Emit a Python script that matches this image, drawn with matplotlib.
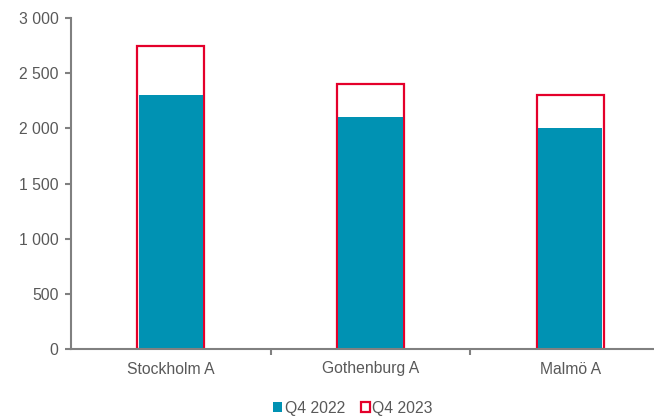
import matplotlib
matplotlib.use('Agg')
import matplotlib.pyplot as plt
from matplotlib.ticker import FuncFormatter, FixedLocator

categories = ['Stockholm A', 'Gothenburg A', 'Malmö A']
q4_2022 = [2300, 2100, 2000]
q4_2023 = [2750, 2400, 2300]

TEAL = '#0092B3'
RED = '#E4002B'
GREY = '#595959'
AXIS = '#808080'

plt.rcParams['font.family'] = ['Liberation Sans', 'DejaVu Sans']

fig = plt.figure(figsize=(6.54, 4.17), dpi=100)
ax = fig.add_axes([71 / 654, 68 / 417, 1 - 71 / 654, 331 / 417])

x = range(len(categories))
w = 0.335
ax.bar(x, q4_2023, width=w, color='white', edgecolor=RED, linewidth=1.6, label='Q4 2023', zorder=2)
ax.bar(x, q4_2022, width=w - 0.012, color=TEAL, linewidth=0, label='Q4 2022', zorder=3)

ax.set_ylim(0, 3000)
ax.set_xlim(-0.5, 2.42)
ax.set_yticks(range(0, 3001, 500))
ax.yaxis.set_major_formatter(FuncFormatter(lambda v, p: f'{int(v):,}'.replace(',', ' ')))
ax.set_xticks(list(x))
ax.set_xticklabels(categories)
ax.xaxis.set_minor_locator(FixedLocator([0.5, 1.5, 2.5]))
ax.tick_params(axis='x', which='major', length=0, pad=9, labelsize=11.3, colors=GREY)
ax.tick_params(axis='x', which='minor', length=4, width=1.5, color=AXIS)
ax.tick_params(axis='y', length=4, width=1.5, color=AXIS, labelsize=11.3, labelcolor=GREY, pad=5)

for s in ['top', 'right']:
    ax.spines[s].set_visible(False)
for s in ['left', 'bottom']:
    ax.spines[s].set_color(AXIS)
    ax.spines[s].set_linewidth(1.5)
ax.spines['bottom'].set_zorder(4)

h, l = ax.get_legend_handles_labels()
leg = fig.legend(h[::-1], l[::-1], loc='center', bbox_to_anchor=(353 / 654, 1 - 408 / 417), ncol=2,
                 frameon=False, fontsize=11.3, handlelength=0.6, handleheight=0.6,
                 handletextpad=0.15, columnspacing=1.0, labelcolor=GREY)

fig.savefig('out.png', dpi=100)
